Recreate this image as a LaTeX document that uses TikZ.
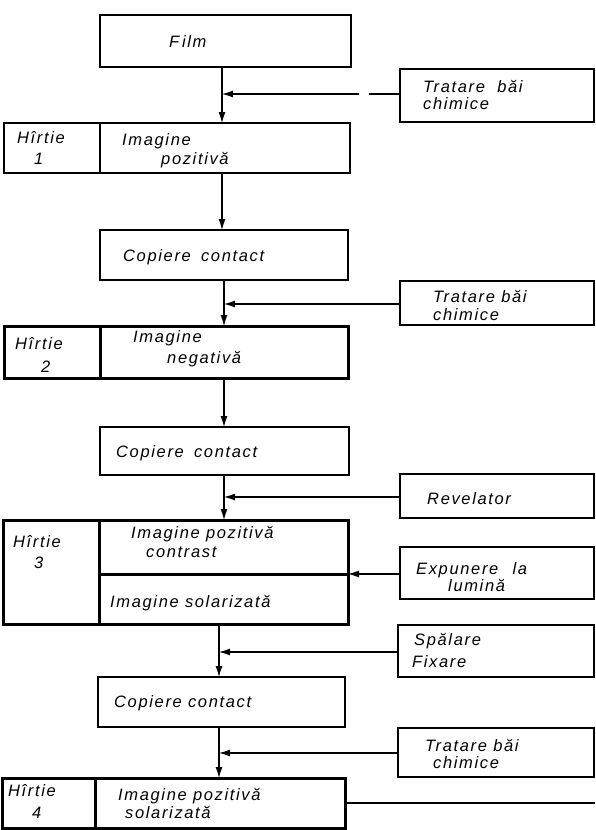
\documentclass[tikz,border=0pt]{standalone}
\usepackage{fontspec}
\newfontfamily\lab{Liberation Sans}[LetterSpace=10]
\usetikzlibrary{arrows.meta,calc}
\begin{document}
\begin{tikzpicture}[x=1pt,y=-1pt,
  box/.style={draw, line width=1.2pt, inner sep=0pt, outer sep=0pt, anchor=north west},
  thickbox/.style={box, line width=3pt},
  medbox/.style={box, line width=2pt},
  txt/.style={anchor=base west, inner sep=0pt, font=\lab\itshape\fontsize{16.5}{18}\selectfont},
  conn/.style={line width=1.2pt, -{Latex[length=11pt,width=7pt]}},
  plain/.style={line width=1.2pt}]
\useasboundingbox (0,0) rectangle (595,830);
\fill[white] (0,0) rectangle (595,830);
% boxes
\node[medbox, minimum width=251pt, minimum height=52pt] (film) at (100,15) {};
\node[box, minimum width=194pt, minimum height=53pt] (t1) at (400,69) {};
\node[medbox, minimum width=346pt, minimum height=50pt] (h1) at (4,123) {};
\node[box, minimum width=248pt, minimum height=50pt] (cc1) at (100,230) {};
\node[box, minimum width=194pt, minimum height=44pt] (t2) at (400,281) {};
\node[thickbox, minimum width=344pt, minimum height=52pt] (h2) at (4,326) {};
\node[box, minimum width=249pt, minimum height=48pt] (cc2) at (100,427) {};
\node[box, minimum width=194pt, minimum height=44pt] (rev) at (400,474) {};
\node[thickbox, minimum width=345pt, minimum height=104pt] (h3) at (3,520) {};
\node[box, minimum width=194pt, minimum height=52pt] (exp) at (400,547) {};
\node[box, minimum width=196pt, minimum height=52pt] (sf) at (398,625) {};
\node[box, minimum width=247pt, minimum height=50pt] (cc3) at (98,677) {};
\node[box, minimum width=196pt, minimum height=49pt] (t3) at (398,728) {};
\node[thickbox, minimum width=343pt, minimum height=50pt] (h4) at (2,778) {};
% dividers
\draw[line width=2pt] ([xshift=96pt]h1.north west) -- ([xshift=96pt]h1.south west);
\draw[line width=3pt] ([xshift=96pt]h2.north west) -- ([xshift=96pt]h2.south west);
\draw[line width=3pt] ([xshift=96pt]h3.north west) -- ([xshift=96pt]h3.south west);
\draw[line width=3pt] ([xshift=96pt,yshift=-54pt]h3.north west) -- ([yshift=-54pt]h3.north east);
\draw[line width=3pt] ([xshift=93pt]h4.north west) -- ([xshift=93pt]h4.south west);
% texts
\node[txt] (xfilm) at (169,47) {F\,ilm};
\node[txt] (xt1a) at (423,92) {Tratare\hspace{6pt} băi};
\node[txt] (xt1b) at (423,109) {chimice};
\node[txt] (xh1a) at (17,143) {Hîrtie};
\node[txt] (xh1b) at (34,164) {1};
\node[txt] (xi1a) at (122,145) {Imagine};
\node[txt] (xi1b) at (161,164) {pozitivă};
\node[txt] (xcc1) at (123,261) {Copiere\hspace{4pt} contact};
\node[txt] (xt2a) at (433,302) {Tratare băi};
\node[txt] (xt2b) at (433,320) {chimice};
\node[txt] (xh2a) at (15,349) {Hîrtie};
\node[txt] (xh2b) at (41,372) {2};
\node[txt] (xi2a) at (133,342) {Imagine};
\node[txt] (xi2b) at (167,363) {negativă};
\node[txt] (xcc2) at (116,457) {Copiere\hspace{4pt} contact};
\node[txt] (xrev) at (427,504) {Revelator};
\node[txt] (xh3a) at (13,547) {Hîrtie};
\node[txt] (xh3b) at (34,568) {3};
\node[txt] (xi3a) at (131,538) {Imagine pozitivă};
\node[txt] (xi3b) at (146,557) {contrast};
\node[txt] (xexa) at (416,574) {Expunere\hspace{8pt} la};
\node[txt] (xexb) at (448,591) {lumină};
\node[txt] (xi3c) at (110,607) {Imagine solarizată};
\node[txt] (xsfa) at (414,645) {Spălare};
\node[txt] (xsfb) at (412,667) {Fixare};
\node[txt] (xcc3) at (114,707) {Copiere contact};
\node[txt] (xt3a) at (425,751) {Tratare băi};
\node[txt] (xt3b) at (433,768) {chimice};
\node[txt] (xh4a) at (8,796) {Hîrtie};
\node[txt] (xh4b) at (32,818) {4};
\node[txt] (xi4a) at (118,800) {Imagine pozitivă};
\node[txt] (xi4b) at (125,818) {solarizată};
% connector columns and levels
\coordinate (c1) at (222,0);
\coordinate (c2) at (224,0);
\coordinate (c3) at (219,0);
\coordinate (a1) at (222,94);
\coordinate (g1) at (369,94);
\coordinate (g2) at (359,94);
\coordinate (a2) at (224,304);
\coordinate (a3) at (224,497);
\coordinate (a4) at (348,574);
\coordinate (a5) at (219,652);
\coordinate (a6) at (219,753);
\coordinate (eend) at (595,803);
% vertical arrows
\draw[conn] (film.south -| c1) -- (h1.north -| c1);
\draw[conn] (h1.south -| c1) -- (cc1.north -| c1);
\draw[conn] (cc1.south -| c2) -- (h2.north -| c2);
\draw[conn] (h2.south -| c2) -- (cc2.north -| c2);
\draw[conn] (cc2.south -| c2) -- (h3.north -| c2);
\draw[conn] (h3.south -| c3) -- (cc3.north -| c3);
\draw[conn] (cc3.south -| c3) -- (h4.north -| c3);
% horizontal arrows
\draw[plain] (t1.west |- a1) -- (g1);
\draw[conn] (g2) -- (a1);
\draw[conn] (t2.west |- a2) -- (a2);
\draw[conn] (rev.west |- a3) -- (a3);
\draw[conn] (exp.west |- a4) -- (a4);
\draw[conn] (sf.west |- a5) -- (a5);
\draw[conn] (t3.west |- a6) -- (a6);
\draw[plain] (h4.east |- eend) -- (eend);
\end{tikzpicture}
\end{document}
